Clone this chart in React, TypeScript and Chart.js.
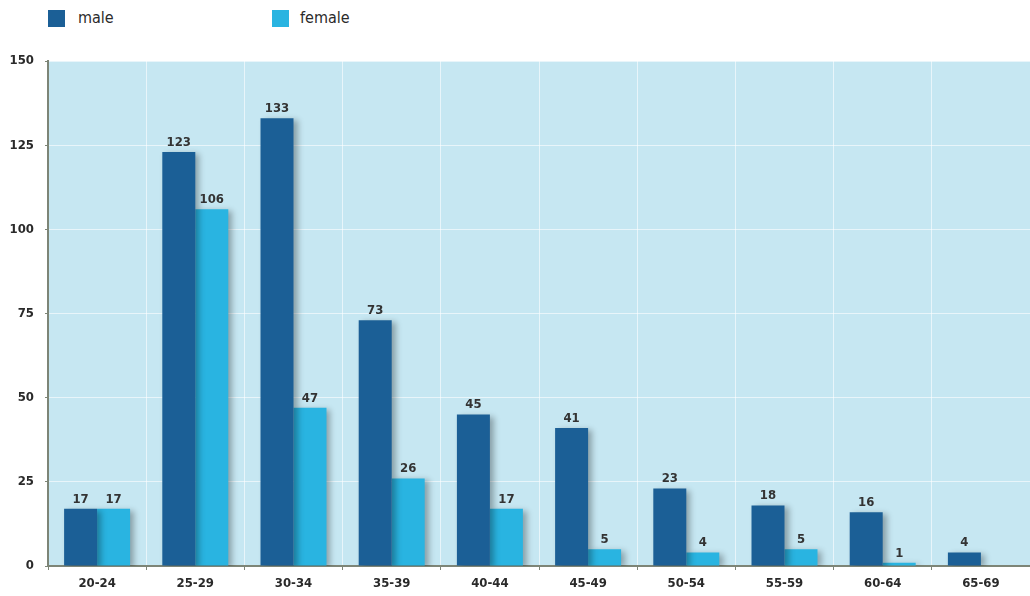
import React, { useEffect, useRef } from "react";
import { Chart, registerables } from "chart.js";

Chart.register(...registerables);

const categories = ["20-24", "25-29", "30-34", "35-39", "40-44", "45-49", "50-54", "55-59", "60-64", "65-69"];
const maleValues = [17, 123, 133, 73, 45, 41, 23, 18, 16, 4];
const femaleValues = [17, 106, 47, 26, 17, 5, 4, 5, 1, null];
const yTicks = [0, 25, 50, 75, 100, 125, 150];

const MALE = "#1b5f96";
const FEMALE = "#29b4e1";
const FONT = "'DejaVu Sans Condensed', 'DejaVu Sans', sans-serif";

const bgPlugin = {
  id: "bgPlugin",
  beforeDraw(chart: any) {
    const { ctx, chartArea } = chart;
    ctx.save();
    ctx.fillStyle = "#c6e7f2";
    ctx.fillRect(chartArea.left, chartArea.top, chartArea.right - chartArea.left, chartArea.bottom - chartArea.top);
    ctx.restore();
  },
};

const shadowPlugin = {
  id: "shadowPlugin",
  beforeDatasetDraw(chart: any) {
    const ctx = chart.ctx;
    ctx.save();
    ctx.shadowColor = "rgba(0,0,0,0.3)";
    ctx.shadowBlur = 6;
    ctx.shadowOffsetX = 4;
    ctx.shadowOffsetY = 2;
  },
  afterDatasetDraw(chart: any) {
    chart.ctx.restore();
  },
};

const labelPlugin = {
  id: "labelPlugin",
  afterDatasetsDraw(chart: any) {
    const ctx = chart.ctx;
    ctx.save();
    ctx.font = `bold 13px ${FONT}`;
    ctx.fillStyle = "#333333";
    ctx.textAlign = "center";
    ctx.textBaseline = "bottom";
    chart.data.datasets.forEach((ds: any, i: number) => {
      const meta = chart.getDatasetMeta(i);
      meta.data.forEach((bar: any, j: number) => {
        const v = ds.data[j];
        if (v === null || v === undefined) return;
        ctx.fillText(String(v), bar.x, bar.y - 3);
      });
    });
    ctx.restore();
  },
};

export default function App() {
  const ref = useRef<HTMLCanvasElement | null>(null);
  useEffect(() => {
    if (!ref.current) return;
    const chart = new Chart(ref.current, {
      type: "bar",
      data: {
        labels: categories,
        datasets: [
          { label: "male", data: maleValues, backgroundColor: MALE, borderWidth: 0 },
          { label: "female", data: femaleValues as any, backgroundColor: FEMALE, borderWidth: 0 },
        ],
      },
      options: {
        animation: false,
        responsive: false,
        maintainAspectRatio: false,
        layout: { padding: { top: 61, right: 0, left: 0, bottom: 0 } },
        plugins: { legend: { display: false }, tooltip: { enabled: false } },
        datasets: { bar: { categoryPercentage: 0.672, barPercentage: 1 } },
        scales: {
          x: {
            grid: {
              offset: true,
              color: "rgba(255,255,255,0.6)",
              lineWidth: 1,
              drawTicks: true,
              tickLength: 4,
              tickColor: "#7d8577",
            },
            border: { color: "#7d8577", width: 2 },
            ticks: {
              color: "#2a2a2a",
              font: { family: FONT, size: 13, weight: "bold" },
              padding: 6,
            },
            afterFit(scale: any) {
              scale.height = 30;
            },
          },
          y: {
            min: 0,
            max: 150,
            afterBuildTicks(scale: any) {
              scale.ticks = yTicks.map((v) => ({ value: v }));
            },
            grid: {
              color: "rgba(255,255,255,0.6)",
              lineWidth: 1,
              tickLength: 3,
              tickColor: "#7d8577",
            },
            border: { color: "#7d8577", width: 2 },
            ticks: {
              color: "#2a2a2a",
              font: { family: FONT, size: 13, weight: "bold" },
              padding: 11,
            },
            afterFit(scale: any) {
              scale.width = 48;
            },
          },
        },
      },
      plugins: [bgPlugin, shadowPlugin, labelPlugin],
    });
    return () => chart.destroy();
  }, []);

  const legendText: React.CSSProperties = {
    position: "absolute",
    top: 8,
    fontFamily: FONT,
    fontSize: 16,
    color: "#2a2a2a",
    lineHeight: "20px",
  };

  return (
    <div style={{ position: "fixed", left: 0, top: 0, width: 1030, height: 596, background: "#fff" }}>
      <div style={{ position: "absolute", left: 48, top: 10, width: 17, height: 17, background: MALE }} />
      <div style={{ ...legendText, left: 78 }}>male</div>
      <div style={{ position: "absolute", left: 272, top: 10, width: 17, height: 17, background: FEMALE }} />
      <div style={{ ...legendText, left: 300 }}>female</div>
      <canvas ref={ref} width={1030} height={596} style={{ position: "absolute", left: 0, top: 0 }} />
    </div>
  );
}
